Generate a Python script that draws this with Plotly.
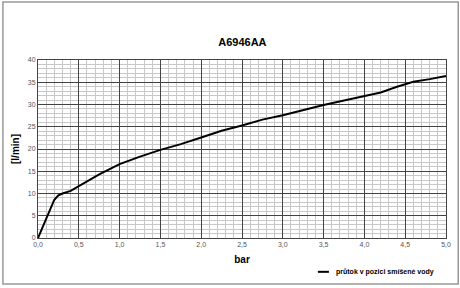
import plotly.graph_objects as go

pressure_bar = [0, 0.1, 0.2, 0.25, 0.3, 0.4, 0.5, 0.75, 1.0, 1.25, 1.5, 1.75, 2.0, 2.25,
                2.5, 2.75, 3.0, 3.25, 3.5, 3.75, 4.0, 4.2, 4.4, 4.6, 4.8, 5.0]
flow_lpm = [0, 4.3, 8.6, 9.6, 10.0, 10.6, 11.7, 14.3, 16.6, 18.3, 19.8, 21.1, 22.6, 24.1,
            25.3, 26.6, 27.6, 28.8, 29.9, 30.9, 31.9, 32.7, 34.0, 35.1, 35.7, 36.4]
x_ticks = [0, 0.5, 1.0, 1.5, 2.0, 2.5, 3.0, 3.5, 4.0, 4.5, 5.0]
y_ticks = [0, 5, 10, 15, 20, 25, 30, 35, 40]
series_name = "průtok v pozici smíšené vody"

fig = go.Figure()
fig.add_trace(go.Scatter(x=pressure_bar, y=flow_lpm, mode="lines",
                         line=dict(color="black", width=2),
                         name=series_name, showlegend=False))

fig.update_layout(
    width=460, height=288,
    margin=dict(l=38, r=14, t=60, b=50, autoexpand=False),
    paper_bgcolor="white", plot_bgcolor="white",
    separators=",.",
    title=dict(text="<b>A6946AA</b>", x=0.527, xanchor="center", y=0.855, yanchor="middle",
               font=dict(family="Liberation Sans", size=11, color="black")),
    showlegend=False,
    annotations=[dict(text="<b>" + series_name + "</b>", xref="paper", yref="paper",
                      x=0.7265, xanchor="left", y=-0.19, yanchor="middle", showarrow=False,
                      font=dict(family="Liberation Sans", size=7, color="black"))],
    shapes=[dict(type="rect", xref="paper", yref="paper", x0=-0.086, x1=1.03, y0=-0.258, y1=1.326,
                 line=dict(color="#999", width=1.5)),
            dict(type="line", xref="paper", yref="paper", x0=0.686, x1=0.713, y0=-0.19, y1=-0.19,
                 line=dict(color="black", width=2))],
)
fig.update_xaxes(range=[0, 5], tickvals=x_ticks, tickformat=".1f",
                 showgrid=True, gridcolor="#444", gridwidth=1,
                 minor=dict(dtick=0.1, showgrid=True, gridcolor="#c8c8c8", gridwidth=1),
                 showline=True, linecolor="#444", mirror=True, zeroline=False,
                 ticks="", tickfont=dict(family="Liberation Sans", size=7, color="#555"),
                 title=dict(text="<b>bar</b>", font=dict(family="Liberation Sans", size=10, color="black"), standoff=8))
fig.update_yaxes(range=[0, 40], tickvals=y_ticks,
                 showgrid=True, gridcolor="#444", gridwidth=1,
                 minor=dict(dtick=1, showgrid=True, gridcolor="#c8c8c8", gridwidth=1),
                 showline=True, linecolor="#444", mirror=True, zeroline=False,
                 ticks="", tickfont=dict(family="Liberation Sans", size=7, color="#555"),
                 title=dict(text="<b>[l/min]</b>", font=dict(family="Liberation Sans", size=10, color="black"), standoff=6))

fig.write_html("out.html")
